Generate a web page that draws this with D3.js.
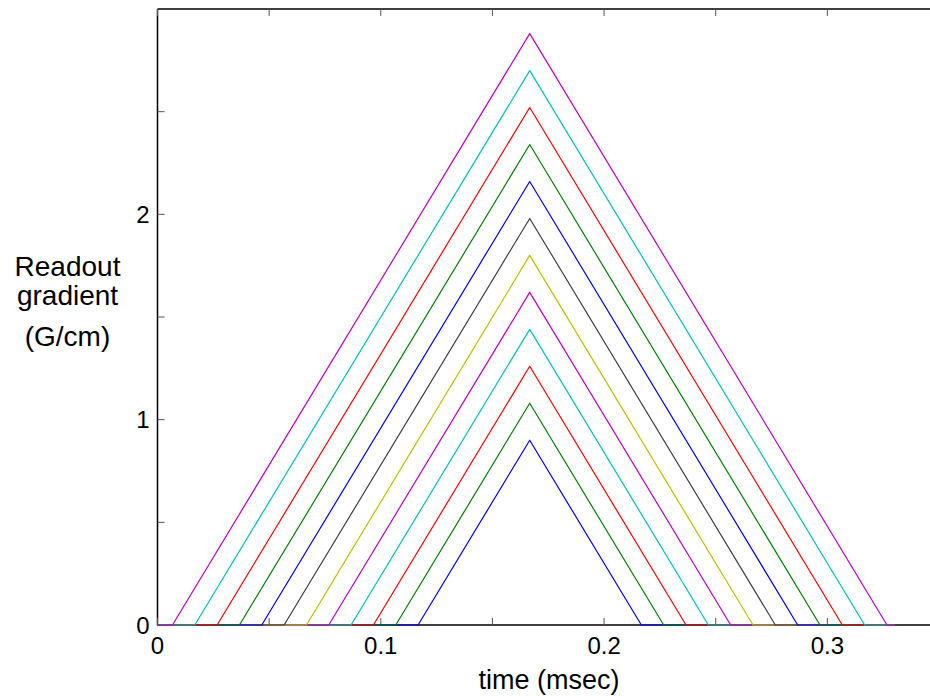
<!DOCTYPE html>
<html lang="en">
<head>
	<meta charset="utf-8">
	<script src="https://d3js.org/d3.v7.min.js"></script>
	<style type="text/css">
		body {
			margin: 0;
			background: #fff;
		}
		text {
			font-family: "Liberation Sans", Arial, sans-serif;
			fill: #000;
		}
	</style>
</head>
<body>
	<svg id="svg1" width="930" height="696"></svg>
	<script type="text/javascript">
		// peak amplitude of each readout gradient (G/cm), smallest first
		var amps = [0.90, 1.08, 1.26, 1.44, 1.62, 1.80, 1.98, 2.16, 2.34, 2.52, 2.70, 2.88];
		// time where ramp up starts and ramp down ends (msec)
		var rampStart = [0.1167, 0.1067, 0.0967, 0.0867, 0.0767, 0.0667, 0.0567, 0.0467, 0.0367, 0.0267, 0.0167, 0.0067];
		var rampEnd = [0.2167, 0.2267, 0.2367, 0.2467, 0.2567, 0.2667, 0.2767, 0.2867, 0.2967, 0.3067, 0.3167, 0.3267];
		var peakTime = 0.1667;
		var tLast = 0.330;
		var colors = ["#0000ff", "#008000", "#ff0000", "#00bfbf", "#bf00bf", "#bfbf00", "#404040",
			"#0000ff", "#008000", "#ff0000", "#00bfbf", "#bf00bf"];

		var xTicks = [0, 0.1, 0.2, 0.3];
		var xMinor = [0.05, 0.15, 0.25];
		var yTicks = [0, 1, 2];
		var yMinor = [0.5, 1.5, 2.5];

		var svg = d3.select("#svg1");

		var x = d3.scaleLinear().domain([0, 0.35]).range([157.5, 939]);
		var y = d3.scaleLinear().domain([0, 3]).range([625, 9]);

		// box (right side is out of view)
		svg.append("line")
			.attr("x1", x(0)).attr("x2", x(0.35))
			.attr("y1", y(3)).attr("y2", y(3))
			.style("stroke", "#000").style("stroke-width", 1.5);
		svg.append("line")
			.attr("x1", x(0)).attr("x2", x(0))
			.attr("y1", y(0)).attr("y2", y(3))
			.style("stroke", "#000").style("stroke-width", 1.5);
		svg.append("line")
			.attr("x1", x(0)).attr("x2", x(0.35))
			.attr("y1", y(0)).attr("y2", y(0))
			.style("stroke", "#000").style("stroke-width", 1.5);

		// inward ticks, bottom and top
		var allX = xTicks.concat(xMinor);
		svg.selectAll(".xtb")
			.data(allX)
			.enter()
			.append("line")
			.attr("x1", d => x(d)).attr("x2", d => x(d))
			.attr("y1", y(0)).attr("y2", y(0) - 7)
			.style("stroke", "#555").style("stroke-width", 1);
		svg.selectAll(".xtt")
			.data(allX)
			.enter()
			.append("line")
			.attr("x1", d => x(d)).attr("x2", d => x(d))
			.attr("y1", y(3)).attr("y2", y(3) + 7)
			.style("stroke", "#555").style("stroke-width", 1);

		var allY = yTicks.concat(yMinor);
		svg.selectAll(".ytl")
			.data(allY)
			.enter()
			.append("line")
			.attr("x1", x(0)).attr("x2", x(0) + 7)
			.attr("y1", d => y(d)).attr("y2", d => y(d))
			.style("stroke", "#555").style("stroke-width", 1);

		// tick labels
		svg.selectAll(".xl")
			.data(xTicks)
			.enter()
			.append("text")
			.attr("x", d => x(d))
			.attr("y", y(0) + 29)
			.attr("text-anchor", "middle")
			.attr("font-size", "24px")
			.text(d => d === 0 ? "0" : d3.format(".1f")(d));

		svg.selectAll(".yl")
			.data(yTicks)
			.enter()
			.append("text")
			.attr("x", x(0) - 8)
			.attr("y", d => y(d) + 8.5)
			.attr("text-anchor", "end")
			.attr("font-size", "24px")
			.text(d => d);

		// axis labels
		svg.append("text")
			.attr("x", 549)
			.attr("y", 689)
			.attr("text-anchor", "middle")
			.attr("font-size", "27px")
			.text("time (msec)");

		var ylab = ["Readout", "gradient", "(G/cm)"];
		var ylabY = [276, 305, 346];
		svg.selectAll(".ylab")
			.data(ylab)
			.enter()
			.append("text")
			.attr("x", 67.5)
			.attr("y", (d, i) => ylabY[i])
			.attr("text-anchor", "middle")
			.attr("font-size", "28px")
			.text(d => d);

		// gradient waveforms
		var line = d3.line()
			.x(d => x(d[0]))
			.y(d => y(d[1]));

		var curves = amps.map(function (a, i) {
			return [[0, 0], [rampStart[i], 0], [peakTime, a], [rampEnd[i], 0], [tLast, 0]];
		});

		svg.selectAll(".wave")
			.data(curves)
			.enter()
			.append("path")
			.attr("d", line)
			.style("fill", "none")
			.style("stroke", (d, i) => colors[i])
			.style("stroke-width", 1.2)
			.style("stroke-linejoin", "round");
	</script>
</body>
</html>
